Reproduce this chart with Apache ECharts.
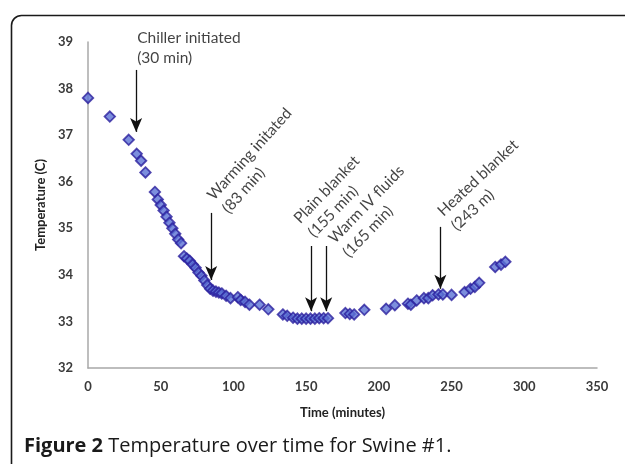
<!DOCTYPE html>
<html>
<head>
<meta charset="utf-8">
<script src="https://cdn.jsdelivr.net/npm/echarts@6/dist/echarts.min.js"></script>
<style>
html,body{margin:0;padding:0;background:#fff;}
#chart{width:625px;height:464px;}
</style>
</head>
<body>
<div id="chart"></div>
<script>
// Time (minutes) and temperature (C) readings
const timeMinutes = [0, 15, 28, 33.5, 36.5, 39.5, 46, 48, 50, 52, 54, 56, 58, 60, 62, 64,
  66, 68, 70, 72, 74, 76, 78, 80, 82, 84, 86, 88, 90, 92, 95, 98, 103, 105, 108, 111,
  118, 124, 134, 137, 141, 144, 147, 150, 153, 156, 159, 162, 165, 177, 180, 183, 190,
  205, 211, 220, 222, 226, 231, 234, 237, 241, 244, 250, 259, 263, 266, 269, 280, 284, 287];
const temperature = [37.8, 37.4, 36.9, 36.6, 36.45, 36.2, 35.78, 35.62, 35.5, 35.38, 35.25, 35.12, 35.0, 34.88, 34.76, 34.68,
  34.4, 34.35, 34.3, 34.22, 34.15, 34.05, 33.98, 33.88, 33.78, 33.7, 33.66, 33.64, 33.62, 33.6, 33.55, 33.5, 33.52, 33.46, 33.42, 33.36,
  33.36, 33.26, 33.15, 33.12, 33.08, 33.06, 33.06, 33.06, 33.06, 33.06, 33.07, 33.07, 33.07, 33.18, 33.16, 33.15, 33.25,
  33.27, 33.35, 33.38, 33.36, 33.45, 33.5, 33.5, 33.56, 33.58, 33.58, 33.57, 33.63, 33.7, 33.74, 33.83, 34.17, 34.22, 34.28];

const xTicks = [0, 50, 100, 150, 200, 250, 300, 350];
const yTicks = [32, 33, 34, 35, 36, 37, 38, 39];

// Event annotations
const eventNames = ['Chiller initiated\n(30 min)', 'Warming initated\n(83 min)', 'Plain blanket\n(155 min)', 'Warm IV fluids\n(165 min)', 'Heated blanket\n(243 m)'];
const arrowX = [33.1, 84.7, 153.4, 163.8, 242.3];
const arrowTop = [38.40, 35.33, 34.62, 34.62, 35.03];
const arrowTip = [37.07, 33.89, 33.22, 33.22, 33.70];
const labelX = [33.8, 79.0, 138.5, 162.4, 237.5];
const labelY = [39.31, 35.80, 35.31, 34.88, 35.48];
const labelRotate = [0, 48, 46, 46, 43];

const FONT = 'Lato';
const points = timeMinutes.map((t, i) => [t, temperature[i]]);
const arrows = arrowX.map((x, i) => [{coord: [x, arrowTop[i]]}, {coord: [x, arrowTip[i]]}]);
const labels = eventNames.map((n, i) => ({
  value: [labelX[i], labelY[i]],
  label: {formatter: n, rotate: labelRotate[i]}
}));

const chart = echarts.init(document.getElementById('chart'), null, {renderer: 'canvas'});
chart.setOption({
  animation: false,
  backgroundColor: '#fff',
  title: {
    text: '{b|Figure 2} Temperature over time for Swine #1.',
    left: 19, top: 431,
    textStyle: {
      fontFamily: 'Open Sans', fontSize: 20, fontWeight: 'normal', color: '#1a1a1a',
      rich: {b: {fontFamily: 'Open Sans', fontSize: 20, fontWeight: 'bold', color: '#1a1a1a'}}
    }
  },
  graphic: [{
    type: 'rect', left: 9, top: 13, z: 100,
    shape: {x: 0, y: 0, width: 700, height: 520, r: 10},
    style: {fill: null, stroke: '#1a1a1a', lineWidth: 1.6}
  }],
  grid: {left: 88, right: 28, top: 42, bottom: 96},
  xAxis: {
    type: 'value', min: 0, max: 350, interval: 50,
    name: 'Time (minutes)', nameLocation: 'middle', nameGap: 38,
    nameTextStyle: {fontFamily: FONT, fontSize: 13, fontWeight: 'bold', color: '#222'},
    axisLine: {show: true, lineStyle: {color: '#a8a8a8', width: 1.5}},
    axisTick: {show: false},
    splitLine: {show: false},
    axisLabel: {fontFamily: FONT, fontSize: 13, fontWeight: 'bold', color: '#3a3a3a', margin: 12,
      customValues: xTicks}
  },
  yAxis: {
    type: 'value', min: 32, max: 39, interval: 1,
    name: 'Temperature (C)', nameLocation: 'middle', nameGap: 41, nameRotate: 90,
    nameTextStyle: {fontFamily: FONT, fontSize: 13, fontWeight: 'bold', color: '#222'},
    axisLine: {show: true, lineStyle: {color: '#a8a8a8', width: 1.5}},
    axisTick: {show: false},
    splitLine: {show: false},
    axisLabel: {fontFamily: FONT, fontSize: 13, fontWeight: 'bold', color: '#3a3a3a', margin: 15,
      customValues: yTicks}
  },
  series: [{
    type: 'scatter',
    name: 'Temperature',
    data: points,
    symbol: 'diamond',
    symbolSize: 10.5,
    itemStyle: {color: '#5b72d4', borderColor: '#2a1f9e', borderWidth: 1.8},
    z: 3,
    markLine: {
      silent: true,
      symbol: ['none', 'arrow'],
      symbolSize: [9, 14],
      label: {show: false},
      lineStyle: {color: '#111', width: 1.3, type: 'solid'},
      data: arrows
    }
  }, {
    type: 'scatter',
    name: 'Events',
    data: labels,
    symbolSize: 0,
    clip: false,
    silent: true,
    label: {
      show: true, position: [0, 0], align: 'left', verticalAlign: 'top',
      fontFamily: FONT, fontSize: 15.5, color: '#111', lineHeight: 20
    },
    z: 5
  }]
});
</script>
</body>
</html>
